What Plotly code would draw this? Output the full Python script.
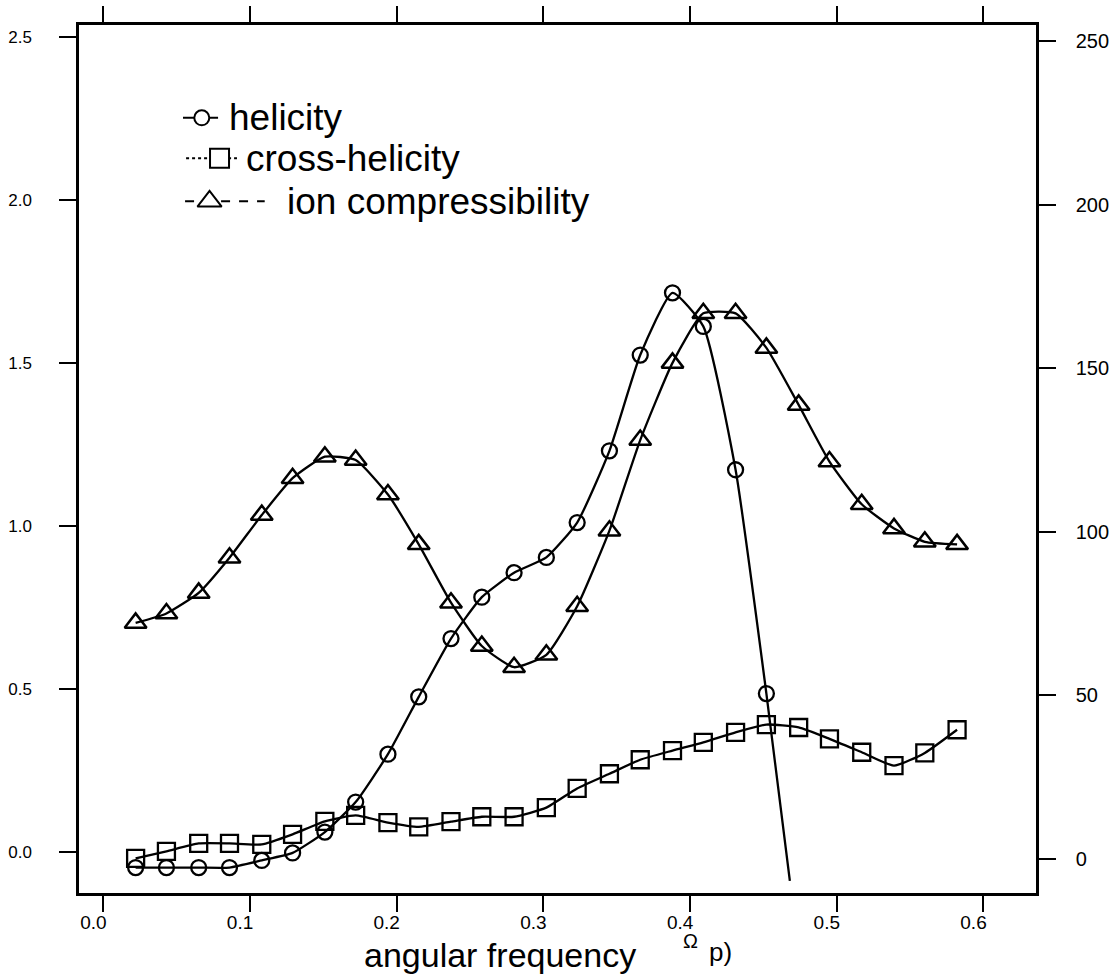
import plotly.graph_objects as go

# ---------------- data ----------------
FREQ = [0.022, 0.043, 0.065, 0.086, 0.108, 0.129, 0.151, 0.172, 0.194, 0.215,
        0.237, 0.258, 0.280, 0.302, 0.323, 0.345, 0.366, 0.388, 0.409, 0.431,
        0.452, 0.474, 0.495, 0.517, 0.539, 0.560, 0.582]

HELICITY = [-0.049, -0.049, -0.049, -0.049, -0.027, -0.004, 0.060, 0.152, 0.299, 0.475,
            0.654, 0.781, 0.856, 0.903, 1.010, 1.230, 1.524, 1.715, 1.612, 1.172,
            0.485]
HELICITY_TAIL_X = [0.468]
HELICITY_TAIL_Y = [-0.090]

CROSS_HELICITY = [-0.021, 0.001, 0.025, 0.025, 0.022, 0.053, 0.093, 0.111, 0.089, 0.076,
                  0.092, 0.107, 0.107, 0.135, 0.194, 0.239, 0.282, 0.310, 0.335, 0.366,
                  0.390, 0.381, 0.346, 0.305, 0.264, 0.303, 0.374]

ION_COMPRESSIBILITY = [0.702, 0.731, 0.794, 0.902, 1.033, 1.146, 1.212, 1.202, 1.096, 0.943,
                       0.764, 0.631, 0.566, 0.604, 0.753, 0.985, 1.263, 1.500, 1.652, 1.652,
                       1.546, 1.371, 1.197, 1.066, 0.992, 0.951, 0.943]

SERIES_NAMES = ["helicity", "cross-helicity", "ion compressibility"]
X_TICKS = [0.0, 0.1, 0.2, 0.3, 0.4, 0.5, 0.6]
Y_TICKS = [0.0, 0.5, 1.0, 1.5, 2.0, 2.5]
Y2_TICKS = [0, 50, 100, 150, 200, 250]
X_TITLE = "angular frequency"
X_TITLE_SYMBOL = "Ω"
X_TITLE_TAIL = "p)"

# ---------------- style ----------------
BLACK = "#000000"
FONT = "Liberation Sans, Arial, Helvetica, sans-serif"
LW = 2.3
SPLINE = dict(shape="spline", smoothing=0.5)

fig = go.Figure()

# helicity: line (with tail that leaves the marker set) + markers
fig.add_trace(go.Scatter(
    x=FREQ[:len(HELICITY)] + HELICITY_TAIL_X, y=HELICITY + HELICITY_TAIL_Y,
    mode="lines", line=dict(color=BLACK, width=LW, **SPLINE),
    showlegend=False, hoverinfo="skip"))
fig.add_trace(go.Scatter(
    x=FREQ[:len(HELICITY)], y=HELICITY, mode="markers", name=SERIES_NAMES[0],
    marker=dict(symbol="circle-open", size=15, color=BLACK, line=dict(width=2.3, color=BLACK)),
    showlegend=False))

fig.add_trace(go.Scatter(
    x=FREQ, y=CROSS_HELICITY, mode="lines+markers", name=SERIES_NAMES[1],
    line=dict(color=BLACK, width=LW, **SPLINE),
    marker=dict(symbol="square-open", size=17, color=BLACK, line=dict(width=2.3, color=BLACK)),
    showlegend=False))

fig.add_trace(go.Scatter(
    x=FREQ, y=ION_COMPRESSIBILITY, mode="lines+markers", name=SERIES_NAMES[2],
    line=dict(color=BLACK, width=LW, **SPLINE),
    marker=dict(symbol="triangle-up-open", size=19, color=BLACK, line=dict(width=2.5, color=BLACK)),
    showlegend=False))

# empty trace to carry the right-hand axis
fig.add_trace(go.Scatter(x=[None], y=[None], yaxis="y2", showlegend=False, hoverinfo="skip"))

# ---------------- hand-drawn style legend (inside the frame) ----------------
LEG_ROWS = [2.252, 2.128, 1.996]
LEG_LINE = [(0.0543, 0.0782), (0.0564, 0.0911), (0.0557, 0.1100)]
LEG_MARK = [0.0671, 0.0792, 0.0724]
LEG_TEXT = [0.0843, 0.0959, 0.1239]
LEG_DASH = ["solid", "dot", "dash"]
LEG_SYM = ["circle", "square", "triangle-up"]
LEG_SIZE = [15, 19, 21]

for i, name in enumerate(SERIES_NAMES):
    fig.add_trace(go.Scatter(
        x=list(LEG_LINE[i]), y=[LEG_ROWS[i]] * 2, mode="lines",
        line=dict(color=BLACK, width=2, dash=LEG_DASH[i]),
        showlegend=False, hoverinfo="skip"))
    fig.add_trace(go.Scatter(
        x=[LEG_MARK[i]], y=[LEG_ROWS[i]], mode="markers",
        marker=dict(symbol=LEG_SYM[i], size=LEG_SIZE[i], color="white",
                    line=dict(width=2, color=BLACK)),
        showlegend=False, hoverinfo="skip"))
    fig.add_annotation(x=LEG_TEXT[i], y=LEG_ROWS[i], xref="x", yref="y",
                       text=name, showarrow=False, xanchor="left", yanchor="middle",
                       font=dict(family=FONT, size=37, color=BLACK))

# ---------------- x axis title (split like the original) ----------------
fig.add_annotation(x=0.4395, y=-0.0715, xref="paper", yref="paper", text=X_TITLE,
                   showarrow=False, xanchor="center", yanchor="middle",
                   font=dict(family=FONT, size=34, color=BLACK))
fig.add_annotation(x=0.6385, y=-0.0555, xref="paper", yref="paper", text=X_TITLE_SYMBOL,
                   showarrow=False, xanchor="center", yanchor="middle",
                   font=dict(family=FONT, size=20, color=BLACK))
fig.add_annotation(x=0.656, y=-0.0685, xref="paper", yref="paper", text=X_TITLE_TAIL,
                   showarrow=False, xanchor="left", yanchor="middle",
                   font=dict(family=FONT, size=26, color=BLACK))

axis_common = dict(showgrid=False, zeroline=False, showline=True, linecolor=BLACK,
                   linewidth=2.5, ticks="outside", tickcolor=BLACK, tickwidth=2,
                   automargin=False)

fig.update_layout(
    width=1119, height=975,
    margin=dict(l=79, r=83, t=25, b=82),
    paper_bgcolor="white", plot_bgcolor="white",
    showlegend=False,
    xaxis=dict(**axis_common, range=[-0.0166, 0.6358], tickvals=X_TICKS,
               tickformat=".1f", ticklen=16, mirror="ticks",
               ticklabelshift=-10, ticklabelstandoff=-6,
               tickfont=dict(family=FONT, size=19, color=BLACK)),
    yaxis=dict(**axis_common, range=[-0.127, 2.537], tickvals=Y_TICKS,
               tickformat=".1f", ticklen=17, ticklabelstandoff=24,
               tickfont=dict(family=FONT, size=17, color=BLACK)),
    yaxis2=dict(**axis_common, range=[-10.5, 255.0], tickvals=Y2_TICKS,
                ticklen=17, overlaying="y", side="right", anchor="x",
                ticklabelstandoff=16,
                tickfont=dict(family=FONT, size=20, color=BLACK)),
)

fig.write_html("out.html")
